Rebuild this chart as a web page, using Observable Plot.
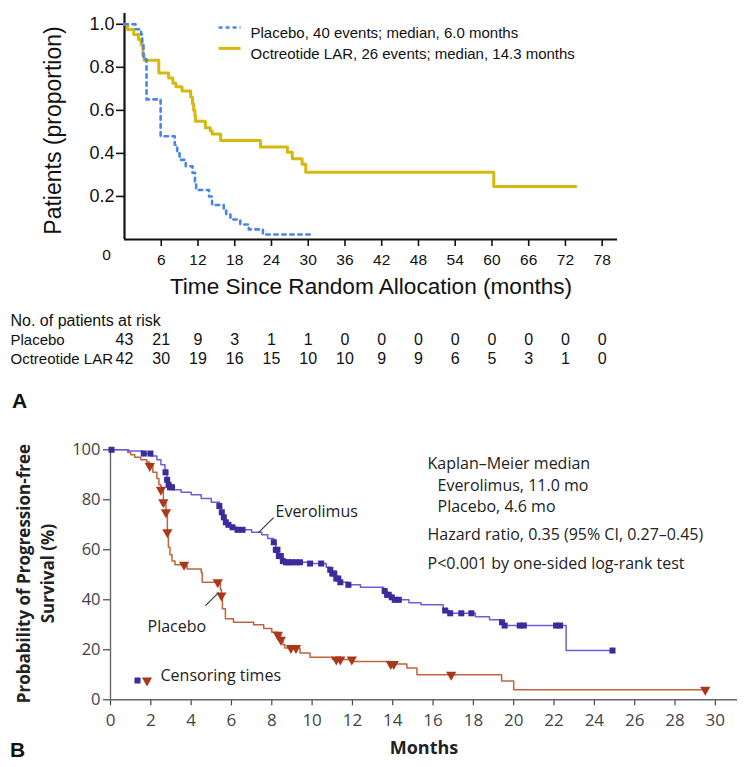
<!DOCTYPE html>
<html><head><meta charset="utf-8">
<script src="https://cdn.jsdelivr.net/npm/d3@7"></script>
<script src="https://cdn.jsdelivr.net/npm/@observablehq/plot@0.6"></script>
<style>
body{margin:0;background:#fff;}
#wrap{position:relative;width:750px;height:767px;overflow:hidden;background:#fff;}
#a{position:absolute;left:0;top:0;}
#b{position:absolute;left:0;top:410px;}
.panel{position:absolute;font:bold 21px/1 "Liberation Sans",Arial,sans-serif;color:#111;}
</style></head><body>
<div id="wrap"><div id="a"></div><div id="b"></div>
<div class="panel" style="left:12px;top:390px">A</div>
<div class="panel" style="left:10px;top:739px">B</div>
</div>
<script>
// ---------- Panel A data ----------
const ticksA = [0, 6, 12, 18, 24, 30, 36, 42, 48, 54, 60, 66, 72, 78];
const placeboA_t = [0, 1.8, 2.7, 2.9, 3.1, 3.6, 5.9, 8.2, 8.6, 9.0, 10.0, 11.1, 11.5, 11.7, 13.8, 14.3, 16.2, 16.6, 17.3, 18.9, 20.3, 22.6, 30.9];
const placeboA_s = [1.0, 0.977, 0.953, 0.907, 0.837, 0.651, 0.48, 0.44, 0.40, 0.37, 0.34, 0.31, 0.27, 0.23, 0.20, 0.16, 0.14, 0.116, 0.093, 0.07, 0.047, 0.023, 0.023];
const octreoA_t = [0, 0.5, 1.5, 2.3, 2.7, 3.0, 3.2, 5.6, 7.2, 7.9, 8.4, 9.4, 10.8, 11.1, 11.3, 11.5, 11.6, 13.2, 14.0, 14.3, 15.7, 22.2, 26.6, 27.4, 29.0, 29.6, 60.3, 73.7];
const octreoA_s = [1.0, 0.976, 0.952, 0.929, 0.905, 0.857, 0.833, 0.774, 0.75, 0.726, 0.71, 0.69, 0.662, 0.63, 0.6, 0.575, 0.549, 0.519, 0.505, 0.49, 0.46, 0.43, 0.405, 0.375, 0.35, 0.313, 0.246, 0.246];
const atRiskPlacebo = [43, 21, 9, 3, 1, 1, 0, 0, 0, 0, 0, 0, 0, 0];
const atRiskOctreo = [42, 30, 19, 16, 15, 10, 10, 9, 9, 6, 5, 3, 1, 0];
const yTicksA = [0.2, 0.4, 0.6, 0.8, 1.0];
const legendA = ["Placebo, 40 events; median, 6.0 months", "Octreotide LAR, 26 events; median, 14.3 months"];
const tableA = ["No. of patients at risk", "Placebo", "Octreotide LAR"];
const titlesA = ["Patients (proportion)", "Time Since Random Allocation (months)"];

// ---------- Panel B data ----------
const ticksBx = [0, 2, 4, 6, 8, 10, 12, 14, 16, 18, 20, 22, 24, 26, 28, 30];
const ticksBy = [0, 20, 40, 60, 80, 100];
const everoB_t = [0, 0.9, 1.6, 2.0, 2.3, 2.5, 2.7, 2.8, 2.85, 2.95, 3.1, 3.5, 4.0, 4.5, 5.0, 5.4, 5.5, 5.6, 5.7, 5.8, 6.0, 6.3, 7.0, 7.5, 7.8, 8.1, 8.2, 8.3, 8.5, 8.6, 9.9, 10.7, 10.9, 11.0, 11.2, 11.4, 11.8, 12.4, 13.55, 13.7, 13.9, 14.1, 14.8, 15.4, 16.5, 16.8, 18.1, 18.8, 19.4, 19.5, 22.6, 24.9];
const everoB_s = [100, 99.5, 98.5, 97.5, 96, 94, 91, 88, 86, 85, 84, 83, 82, 80.5, 79, 77.5, 75, 73, 71, 70, 69, 68, 67, 66, 64.5, 63, 60, 57.5, 55.5, 55, 54.5, 53, 52, 50.5, 48.5, 47, 46, 45, 43.5, 42, 41, 40, 38.8, 38, 35.7, 34.6, 33.2, 32, 31, 29.7, 19.7, 19.7];
const everoB_censor = [0.05, 1.65, 1.98, 2.73, 2.81, 2.88, 2.95, 3.05, 5.4, 5.52, 5.62, 5.72, 5.85, 6.05, 6.3, 6.55, 8.1, 8.2, 8.28, 8.35, 8.45, 8.55, 8.7, 8.85, 9.0, 9.2, 9.4, 9.9, 10.45, 10.9, 11.0, 11.1, 11.2, 11.3, 11.4, 11.8, 13.6, 13.72, 13.8, 13.95, 14.1, 14.3, 16.6, 16.85, 17.4, 17.9, 19.42, 19.55, 20.3, 20.5, 22.1, 22.3, 24.9];
const placeboB_t = [0, 0.85, 1.0, 1.2, 1.5, 1.8, 1.95, 2.1, 2.3, 2.4, 2.5, 2.62, 2.75, 2.82, 2.87, 2.95, 3.05, 3.2, 3.7, 3.8, 4.5, 4.55, 5.45, 5.5, 5.55, 5.7, 6.1, 7.1, 7.6, 8.0, 8.3, 8.45, 8.55, 8.65, 9.4, 9.9, 11.0, 12.0, 13.9, 14.7, 15.2, 19.4, 20.0, 29.5];
const placeboB_s = [100, 99, 98, 97, 96, 95, 93.5, 91, 88.5, 86, 84, 79, 75, 67, 61, 58, 55.5, 54, 53.5, 52.3, 51, 47, 44, 41.7, 36.4, 32.4, 31, 30, 28.5, 27, 26, 24, 22, 20.7, 18.7, 17, 16.1, 15.3, 14.3, 12.7, 10, 7.5, 4, 4];
const placeboB_censor = [1.95, 2.5, 2.62, 2.75, 2.82, 3.65, 5.32, 5.5, 8.3, 8.45, 8.95, 9.2, 11.2, 11.4, 11.97, 13.9, 14.05, 16.9, 29.5];
const notesB = ["Kaplan\u2013Meier median", "Everolimus, 11.0 mo", "Placebo, 4.6 mo", "Hazard ratio, 0.35 (95% CI, 0.27\u20130.45)", "P<0.001 by one-sided log-rank test"];
const seriesB = ["Everolimus", "Placebo"];
const censorLegend = ["Censoring times"];
const titlesB = ["Probability of Progression-free\nSurvival (%)", "Months"];

// ---------- helpers ----------
const zip = (ts, ss) => ts.map((t, i) => ({t, s: ss[i]}));
function stepAt(ts, ss, t) { let v = ss[0]; for (let i = 0; i < ts.length; i++) { if (ts[i] <= t) v = ss[i]; else break; } return v; }
const censorPts = (c, ts, ss) => c.map(t => ({t, s: stepAt(ts, ss, t)}));

// ---------- Panel A ----------
const fA = '"Liberation Sans", Arial, sans-serif';
const plotA = Plot.plot({
  width: 750, height: 410,
  marginLeft: 124, marginRight: 133, marginTop: 13, marginBottom: 171,
  x: {domain: [0, 80.5]},
  y: {domain: [0, 1.05]},
  style: {fontFamily: fA, fontSize: "14px", color: "#111", background: "#fff"},
  marks: [
    Plot.axisY({ticks: yTicksA, tickFormat: d => d.toFixed(1), tickSize: 8, tickPadding: 2, fontSize: 18, label: null, color: "#111", strokeWidth: 1.6}),
    Plot.axisX({ticks: ticksA.slice(1), tickSize: 7, tickPadding: 7, fontSize: 15.5, label: null, color: "#111", strokeWidth: 1.6}),
    Plot.text(ticksA.slice(0, 1), {x: d => d, text: d => String(d), frameAnchor: "bottom", dy: 20, dx: -18, fontSize: 15.5, fill: "#111"}),
    Plot.ruleY([0], {stroke: "#111", strokeWidth: 2.2}),
    Plot.ruleX([0], {stroke: "#111", strokeWidth: 2.2}),
    Plot.line(zip(octreoA_t, octreoA_s), {x: "t", y: "s", curve: "step-after", stroke: "#d6b90c", strokeWidth: 3}),
    Plot.line(zip(placeboA_t, placeboA_s), {x: "t", y: "s", curve: "step-after", stroke: "#4a84ea", strokeWidth: 2.6, strokeDasharray: "3.5,4.5"}),
    // legend
    Plot.link([legendA[0]], {x1: 15.36, x2: 18.95, y1: 0.985, y2: 0.985, stroke: "#4a84ea", strokeWidth: 2.6, strokeDasharray: "4,3"}),
    Plot.link([legendA[1]], {x1: 15.36, x2: 18.95, y1: 0.888, y2: 0.888, stroke: "#d6b90c", strokeWidth: 3}),
    Plot.text([legendA[0]], {text: d => d, frameAnchor: "top-left", dx: 126, dy: 14, textAnchor: "start", fontSize: 15, fill: "#111"}),
    Plot.text([legendA[1]], {text: d => d, frameAnchor: "top-left", dx: 126, dy: 35, textAnchor: "start", fontSize: 15, fill: "#111"}),
    // titles
    Plot.text([titlesA[0]], {text: d => d, frameAnchor: "left", textAnchor: "middle", dx: -71, dy: 4, rotate: -90, fontSize: 23, fill: "#111"}),
    Plot.text([titlesA[1]], {text: d => d, frameAnchor: "bottom", dy: 54, fontSize: 22.6, fill: "#111"}),
    // at-risk table
    Plot.text([tableA[0]], {text: d => d, frameAnchor: "bottom-left", dx: -114, dy: 86, textAnchor: "start", fontSize: 16, fill: "#111"}),
    Plot.text([tableA[1]], {text: d => d, frameAnchor: "bottom-left", dx: -114, dy: 105, textAnchor: "start", fontSize: 15, fill: "#111"}),
    Plot.text([tableA[2]], {text: d => d, frameAnchor: "bottom-left", dx: -114, dy: 124, textAnchor: "start", fontSize: 15, fill: "#111"}),
    Plot.text(atRiskPlacebo, {x: (d, i) => ticksA[i], text: d => String(d), frameAnchor: "bottom", dy: 105, fontSize: 16, fill: "#111"}),
    Plot.text(atRiskOctreo, {x: (d, i) => ticksA[i], text: d => String(d), frameAnchor: "bottom", dy: 124, fontSize: 16, fill: "#111"})
  ]
});
document.getElementById("a").append(plotA);

// ---------- Panel B ----------
const fB = '"Open Sans", "Noto Sans", sans-serif';
const evLine = "#6a60d6", evMark = "#3b2b9c", plLine = "#c0643c", plMark = "#a8391c";
const plotB = Plot.plot({
  width: 750, height: 357,
  marginLeft: 110, marginRight: 13, marginTop: 36.8, marginBottom: 67.7,
  x: {domain: [0, 31.1]},
  y: {domain: [0, 101]},
  style: {fontFamily: fB, fontSize: "16px", color: "#222", background: "#fff"},
  marks: [
    Plot.axisY({ticks: ticksBy, tickSize: 7, tickPadding: 3, fontSize: 16.5, label: null, color: "#444", strokeWidth: 1.2}),
    Plot.axisX({ticks: ticksBx, tickSize: 6, tickPadding: 8, fontSize: 17, label: null, color: "#444", strokeWidth: 1.2}),
    Plot.ruleY([0], {stroke: "#666", strokeWidth: 1.4}),
    Plot.ruleX([0], {stroke: "#666", strokeWidth: 1.4}),
    Plot.line(zip(placeboB_t, placeboB_s), {x: "t", y: "s", curve: "step-after", stroke: plLine, strokeWidth: 1.5}),
    Plot.line(zip(everoB_t, everoB_s), {x: "t", y: "s", curve: "step-after", stroke: evLine, strokeWidth: 1.5}),
    Plot.dot(censorPts(placeboB_censor, placeboB_t, placeboB_s), {x: "t", y: "s", symbol: "triangle", rotate: 180, r: 3.8, fill: plMark, stroke: "none"}),
    Plot.dot(censorPts(everoB_censor, everoB_t, everoB_s), {x: "t", y: "s", symbol: "square", r: 3.4, fill: evMark, stroke: "none"}),
    // leader lines + series labels
    Plot.link([seriesB[0]], {x1: 8.09, y1: 72.9, x2: 7.34, y2: 66.9, stroke: "#333", strokeWidth: 1.1}),
    Plot.link([seriesB[1]], {x1: 4.71, y1: 37.7, x2: 5.36, y2: 42.9, stroke: "#333", strokeWidth: 1.1}),
    Plot.text([seriesB[0]], {text: d => d, frameAnchor: "top-left", dx: 165, dy: 58.2, textAnchor: "start", fontSize: 16, fill: "#222"}),
    Plot.text([seriesB[1]], {text: d => d, frameAnchor: "top-left", dx: 37, dy: 173.2, textAnchor: "start", fontSize: 16, fill: "#222"}),
    // censoring legend
    Plot.dot(censorLegend, {frameAnchor: "bottom-left", dx: 27, dy: -19.3, symbol: "square", r: 3.4, fill: evMark, stroke: "none"}),
    Plot.dot(censorLegend, {frameAnchor: "bottom-left", dx: 36.5, dy: -19.3, symbol: "triangle", rotate: 180, r: 3.8, fill: plMark, stroke: "none"}),
    Plot.text(censorLegend, {text: d => d, frameAnchor: "bottom-left", dx: 50, dy: -19.3, textAnchor: "start", fontSize: 16, fill: "#222"}),
    // notes
    Plot.text([notesB[0]], {text: d => d, frameAnchor: "top-left", dx: 317, dy: 9.9, textAnchor: "start", fontSize: 16, fill: "#222"}),
    Plot.text([notesB[1]], {text: d => d, frameAnchor: "top-left", dx: 327, dy: 32.5, textAnchor: "start", fontSize: 16, fill: "#222"}),
    Plot.text([notesB[2]], {text: d => d, frameAnchor: "top-left", dx: 327, dy: 53.2, textAnchor: "start", fontSize: 16, fill: "#222"}),
    Plot.text([notesB[3]], {text: d => d, frameAnchor: "top-left", dx: 317, dy: 81.5, textAnchor: "start", fontSize: 16, fill: "#222"}),
    Plot.text([notesB[4]], {text: d => d, frameAnchor: "top-left", dx: 317, dy: 109.9, textAnchor: "start", fontSize: 16, fill: "#222"}),
    // titles
    Plot.text([titlesB[0]], {text: d => d, frameAnchor: "left", textAnchor: "middle", lineAnchor: "middle", dx: -76.5, rotate: -90, lineHeight: 1.44, fontSize: 17, fontWeight: "bold", fill: "#222"}),
    Plot.text([titlesB[1]], {text: d => d, frameAnchor: "bottom", dy: 54, fontSize: 18, fontWeight: "bold", fill: "#222"})
  ]
});
document.getElementById("b").append(plotB);
</script>
</body></html>
